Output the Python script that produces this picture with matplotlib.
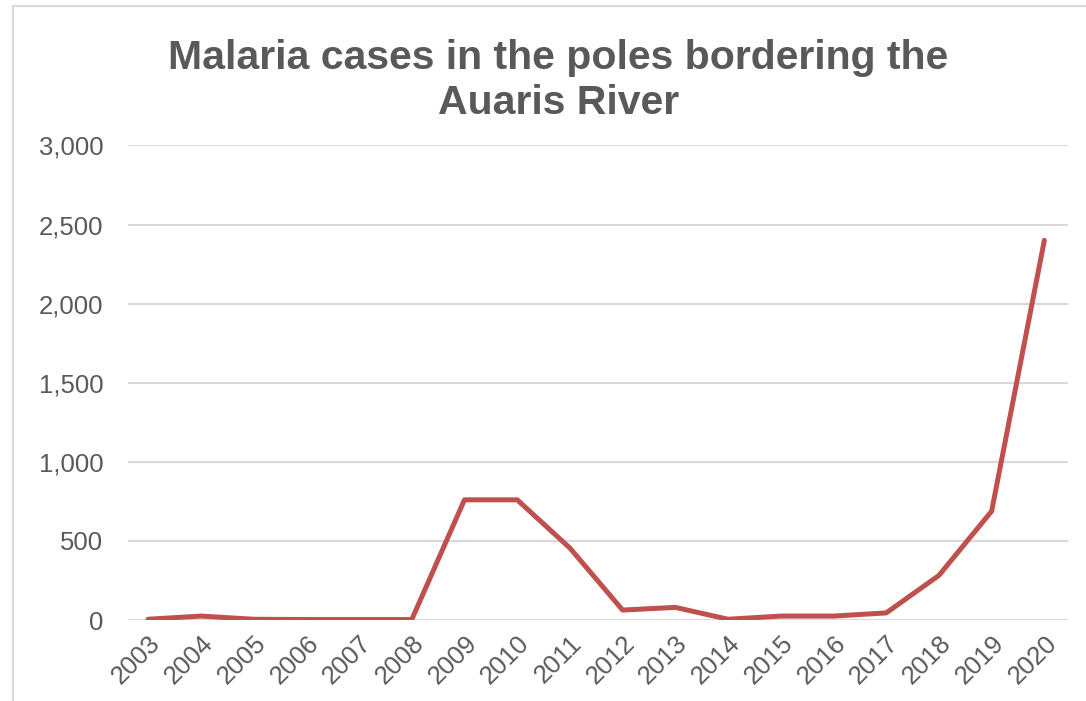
import matplotlib.pyplot as plt
from matplotlib.patches import Rectangle
from matplotlib.ticker import FuncFormatter

plt.rcParams['font.family'] = ['Liberation Sans', 'DejaVu Sans']

years = ['2003', '2004', '2005', '2006', '2007', '2008', '2009', '2010', '2011',
         '2012', '2013', '2014', '2015', '2016', '2017', '2018', '2019', '2020']
cases = [5, 25, 5, 3, 3, 3, 760, 760, 455, 63, 80, 5, 25, 25, 45, 282, 688, 2400]

grey = '#595959'

fig = plt.figure(figsize=(10.86, 7.01), dpi=100)
ax = fig.add_axes([0.118, 0.1155, 0.865, 0.677])

# chart border like the spreadsheet frame
fig.patches.append(Rectangle((13 / 1086, -0.05), 1.1, 1 - 6 / 701 + 0.05,
                             transform=fig.transFigure, fill=False,
                             edgecolor='#D9D9D9', linewidth=1.5))

x = range(len(years))
ax.plot(x, cases, color='#C0504D', linewidth=3.6, solid_capstyle='round')

ax.set_xlim(-0.38, len(years) - 0.56)
ax.set_ylim(0, 3000)
ax.set_yticks(range(0, 3001, 500))
ax.yaxis.set_major_formatter(FuncFormatter(lambda v, p: f'{int(v):,}'))
ax.set_xticks(list(x))
ax.set_xticklabels(years, rotation=45, ha='right', rotation_mode='anchor')

ax.grid(axis='y', color='#D9D9D9', linewidth=1.5)
ax.set_axisbelow(True)
for s in ax.spines.values():
    s.set_visible(False)
ax.tick_params(axis='both', length=0, labelsize=18.5, colors=grey)
ax.tick_params(axis='y', pad=18)
ax.tick_params(axis='x', pad=8)

fig.text(0.514, 0.885, 'Malaria cases in the poles bordering the\nAuaris River',
         ha='center', va='center', fontsize=29.5, fontweight='bold', color=grey,
         linespacing=1.25)

fig.savefig('out.png', dpi=100)
